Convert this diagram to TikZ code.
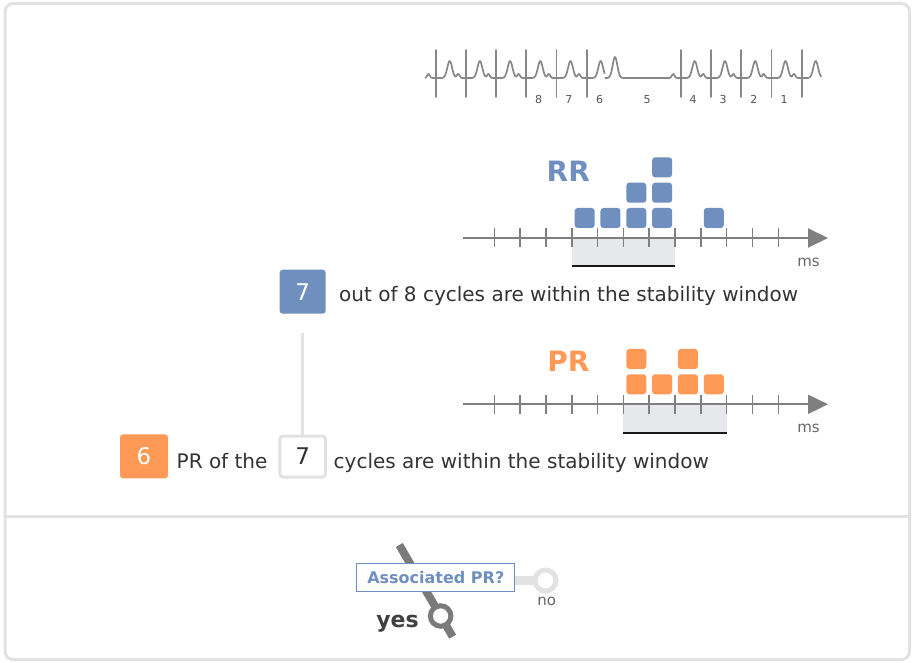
\documentclass[tikz,border=0pt]{standalone}
\usepackage{fontspec}
\setmainfont{DejaVu Sans}
\usetikzlibrary{arrows.meta,calc,positioning}
\definecolor{rrblue}{HTML}{6F8FBF}
\definecolor{prorange}{HTML}{FF9955}
\definecolor{framegray}{HTML}{E2E2E2}
\definecolor{axisgray}{HTML}{7F7F7F}
\definecolor{windowgray}{HTML}{E7E8EC}
\definecolor{textdark}{HTML}{333333}
\definecolor{ecggray}{HTML}{7A7A7A}
\newcommand{\beat}[3]{\draw[ecg] (#1,78) -- (#1,50) -- (#1,97) -- (#1,78);
  \draw[ecg] plot[domain=#2:#3,samples=50] ({#1+\x},{78-17*exp(-((\x-14)/3.4)^2)-4*exp(-((\x-22.5)/1.9)^2)});}
\newcommand{\histcell}[5]{\node[cell,fill=#2] (#1#3#4) at ({494.3+25.82*(#3+0.5)},{#5-20-25.3*#4}) {};}
\newcommand{\msaxis}[2]{\draw[axis] (463,#2) -- (828,#2);
  \foreach \t in {0,...,11} \draw[tickmark] ({494.3+25.82*\t},{#2-9.5}) -- ++(0,19);
  \node[unit] (#1ms) at (808.5,{#2+28.5}) {ms};}
\newcommand{\window}[3]{\fill[windowgray] ({494.3+25.82*#1},#3) rectangle ({494.3+25.82*#2},{#3+28.3});
  \draw[windowline] ({494.3+25.82*#1},{#3+28.3}) -- ({494.3+25.82*#2},{#3+28.3});}

\begin{document}
\begin{tikzpicture}[x=1pt,y=-1pt,
    frame/.style={draw=framegray,line width=3pt},
    ecg/.style={draw=ecggray!90,line width=1.7pt,line join=round},
    beatnum/.style={font=\fontsize{11}{12}\selectfont,text=textdark!85,inner sep=0pt,anchor=base},
    axis/.style={draw=axisgray,line width=2pt,-{Triangle[length=20pt,width=19pt]}},
    tickmark/.style={draw=axisgray,line width=1.5pt},
    windowline/.style={draw=black!90,line width=2pt},
    unit/.style={font=\fontsize{15}{18}\selectfont,text=black!60,inner sep=0pt,anchor=base},
    cell/.style={rounded corners=3pt,minimum size=20pt,inner sep=0pt},
    histname/.style={font=\fontsize{28}{30}\selectfont\bfseries,inner sep=0pt,anchor=base},
    countbox/.style={rounded corners=3pt,minimum width=46pt,minimum height=44pt,inner sep=0pt,font=\fontsize{23}{23}\selectfont},
    sentence/.style={font=\fontsize{20}{24}\selectfont,text=textdark,inner sep=0pt,anchor=base west},
    link/.style={draw=framegray,line width=3.5pt},
    lever/.style={draw=ecggray,line width=8pt},
    ring/.style={circle,draw,fill=white,line width=5pt,inner sep=0pt}]
\useasboundingbox (0,0) rectangle (914,663);
% panels
\draw[frame,rounded corners=8pt] (5,3.5) rectangle (909.5,659.5);
\draw[frame] (5,516) -- (909.5,516);
% ecg strip
\draw[ecg] plot[domain=425:435.7,samples=30] (\x,{78-4*exp(-((\x-428.5)/1.9)^2)});
\beat{435.7}{0}{30.2}
\beat{465.9}{0}{30.2}
\beat{496.1}{0}{30.2}
\beat{526.3}{0}{30.2}
\beat{556.5}{0}{30.2}
\beat{586.7}{0}{18}
\draw[ecg] plot[domain=604.7:680.7,samples=120] (\x,{78-21*exp(-((\x-615)/3.3)^2)-4*exp(-((\x-673.2)/1.9)^2)});
\beat{680.7}{0}{30.25}
\beat{710.95}{0}{30.25}
\beat{741.2}{0}{30.25}
\beat{771.45}{0}{30.25}
\beat{801.7}{0}{20}
\node[beatnum] (n8) at (538.5,104) {8};
\node[beatnum] (n7) at (568.8,104) {7};
\node[beatnum] (n6) at (599.5,104) {6};
\node[beatnum] (n5) at (647,104) {5};
\node[beatnum] (n4) at (693,104) {4};
\node[beatnum] (n3) at (723.2,104) {3};
\node[beatnum] (n2) at (753.8,104) {2};
\node[beatnum] (n1) at (784,104) {1};
% RR histogram
\node[histname,text=rrblue] (rrname) at (568.3,181.5) {RR};
\window{3}{7}{238}
\msaxis{rr}{238}
\histcell{rr}{rrblue}{3}{0}{238}
\histcell{rr}{rrblue}{4}{0}{238}
\histcell{rr}{rrblue}{5}{0}{238}
\histcell{rr}{rrblue}{5}{1}{238}
\histcell{rr}{rrblue}{6}{0}{238}
\histcell{rr}{rrblue}{6}{1}{238}
\histcell{rr}{rrblue}{6}{2}{238}
\histcell{rr}{rrblue}{8}{0}{238}
% PR histogram
\node[histname,text=prorange] (prname) at (568.3,371.5) {PR};
\window{5}{9}{404.3}
\msaxis{pr}{404.3}
\histcell{pr}{prorange}{5}{0}{404.3}
\histcell{pr}{prorange}{5}{1}{404.3}
\histcell{pr}{prorange}{6}{0}{404.3}
\histcell{pr}{prorange}{7}{0}{404.3}
\histcell{pr}{prorange}{7}{1}{404.3}
\histcell{pr}{prorange}{8}{0}{404.3}
% counts
\node[countbox,fill=rrblue,text=white] (rrcount) at (302.7,291.7) {7};
\node[sentence] (rrtext) at (339,302) {out of 8 cycles are within the stability window};
\node[countbox,fill=prorange,text=white,minimum width=48pt] (prcount) at (144,456.3) {6};
\node[sentence] (prtext) at (176.5,468.5) {PR of the};
\node[countbox,draw=framegray,line width=3pt,fill=white,text=textdark,minimum width=45.5pt,minimum height=41pt] (prsel) at (302.7,456.5) {7};
\node[sentence] (prtail) at (333.5,468.5) {cycles are within the stability window};
\draw[link,shorten <=19pt] (rrcount.south) -- (prsel.north);
% switch
\coordinate (levertop) at (399.3,545);
\coordinate (leverbot) at (452.7,636.7);
\draw[lever] (levertop) -- (leverbot);
\node[draw=rrblue,line width=1pt,fill=white,text=rrblue,font=\fontsize{16}{18}\selectfont\bfseries,minimum width=158pt,minimum height=28.5pt,inner sep=0pt] (askpr) at (435.8,577.5) {Associated PR?};
\node[ring,draw=framegray,minimum size=21pt] (noring) at (545.5,580.5) {};
\node[ring,draw=ecggray,minimum size=20.5pt] (yesring) at ($(levertop)!0.774!(leverbot)$) {};
\draw[draw=framegray,line width=9pt] ([yshift=-3pt]askpr.east) -- (noring.west);
\node[font=\fontsize{15}{18}\selectfont,text=black!60,inner sep=0pt,anchor=base] (nolabel) at (546.7,605) {no};
\node[font=\fontsize{22}{24}\selectfont\bfseries,text=black!75,inner sep=0pt,anchor=base] (yeslabel) at (397.5,627) {yes};
\end{tikzpicture}
\end{document}
